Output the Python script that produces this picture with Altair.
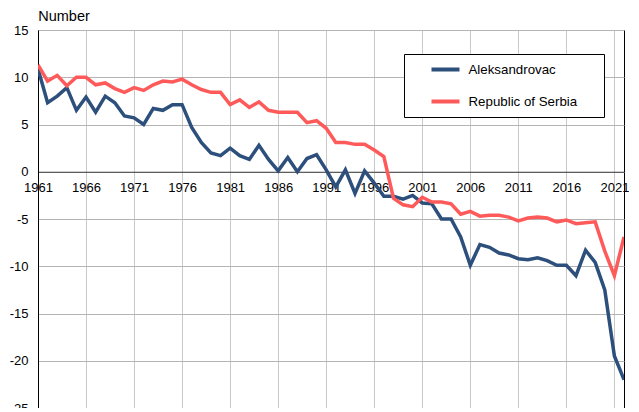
import altair as alt
import pandas as pd

years = list(range(1961, 2023))

aleksandrovac = [
    10.9, 7.3, 8.0, 8.9, 6.5, 7.9, 6.3, 8.0, 7.3, 5.9,
    5.7, 5.0, 6.7, 6.5, 7.1, 7.1, 4.7, 3.1, 2.0, 1.7,
    2.5, 1.7, 1.3, 2.8, 1.3, 0.1, 1.5, 0.0, 1.4, 1.8,
    0.2, -1.6, 0.2, -2.3, 0.1, -1.2, -2.6, -2.6, -2.9, -2.5,
    -3.3, -3.4, -5.0, -5.0, -6.9, -9.9, -7.7, -8.0, -8.6, -8.8,
    -9.2, -9.3, -9.1, -9.4, -9.9, -9.9, -11.0, -8.3, -9.6, -12.5,
    -19.5, -22.0,
]

serbia = [
    11.3, 9.6, 10.2, 9.1, 10.0, 10.0, 9.2, 9.4, 8.8, 8.4,
    8.9, 8.6, 9.2, 9.6, 9.5, 9.8, 9.2, 8.7, 8.4, 8.4,
    7.1, 7.6, 6.8, 7.4, 6.5, 6.3, 6.3, 6.3, 5.2, 5.4,
    4.6, 3.1, 3.1, 2.9, 2.9, 2.3, 1.6, -2.8, -3.5, -3.7,
    -2.7, -3.2, -3.2, -3.4, -4.5, -4.2, -4.7, -4.6, -4.6, -4.8,
    -5.2, -4.9, -4.8, -4.9, -5.3, -5.1, -5.5, -5.4, -5.3, -8.4,
    -11.0, -6.9,
]

series_names = ["Aleksandrovac", "Republic of Serbia"]
series_colors = ["#2D4F7C", "#FF5A5A"]
x_ticks = [1961, 1966, 1971, 1976, 1981, 1986, 1991, 1996, 2001, 2006, 2011, 2016, 2021]
y_ticks = [-25, -20, -15, -10, -5, 0, 5, 10, 15]

rows = []
for name, vals in zip(series_names, [aleksandrovac, serbia]):
    for yr, v in zip(years, vals):
        rows.append({"year": yr, "value": v, "series": name})
df = pd.DataFrame(rows)

W, H = 586, 378
zero_y = H * 15 / 40

pad = "\u00a0" * 5 + "\u200b"

chart = alt.Chart(df).mark_line(strokeWidth=3.5, clip=True).encode(
    x=alt.X(
        "year:Q",
        scale=alt.Scale(domain=[1961, 2022], nice=False, zero=False),
        axis=alt.Axis(
            values=x_ticks, format="d", title=None, offset=-(H - zero_y),
            labelFlush=False, ticks=False, labelPadding=10,
            domainColor="#404040", domainWidth=1.2, gridColor="#c8c8c8",
        ),
    ),
    y=alt.Y(
        "value:Q",
        scale=alt.Scale(domain=[-25, 15], nice=False, zero=False),
        axis=alt.Axis(
            values=y_ticks, title=None, ticks=False, labelPadding=10,
            domainColor="black", gridColor="#b4b4b4",
            labelExpr="replace(datum.label, '\u2212', '-')",
        ),
    ),
    color=alt.Color(
        "series:N",
        scale=alt.Scale(domain=series_names, range=series_colors),
        legend=alt.Legend(
            orient="none", legendX=366, legendY=24, title=None,
            strokeColor="black", fillColor="white", padding=7.5,
            symbolType="stroke", symbolSize=784, symbolStrokeWidth=4,
            clipHeight=16, rowPadding=16, symbolOffset=18, labelOffset=7,
            labelFontSize=13.3, labelFont="Liberation Sans", labelColor="black",
            labelExpr="datum.label + '" + pad + "'",
        ),
    ),
).properties(
    width=W,
    height=H,
    autosize=alt.AutoSizeParams(type="none"),
    padding={"left": 30, "top": 22, "right": 5, "bottom": 0},
    title=alt.Title(
        "Number", anchor="start", fontSize=14.5, font="Liberation Sans",
        fontWeight="normal", color="black", offset=2, dy=13, dx=29,
        baseline="alphabetic",
    ),
).configure_view(
    stroke="black", strokeWidth=1,
).configure_axis(
    labelFont="Liberation Sans", labelFontSize=13, labelColor="black", gridWidth=1,
)

chart.save("out.html", embed_options={"renderer": "svg", "actions": False})
